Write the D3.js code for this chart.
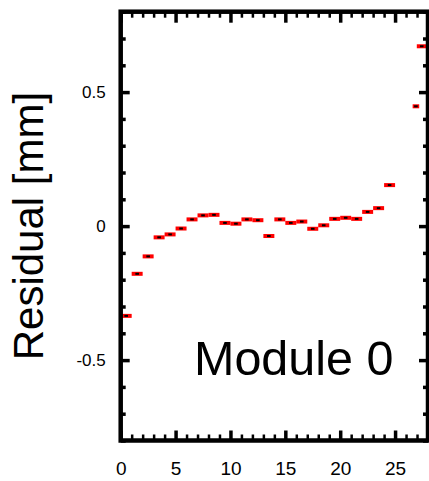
<!DOCTYPE html>
<html>
<head>
<meta charset="utf-8">
<script src="https://cdn.jsdelivr.net/npm/d3@7"></script>
<style>
  body { margin: 0; background: #fff; }
  svg { display: block; font-family: "Liberation Sans", Arial, sans-serif; }
</style>
</head>
<body>
<div id="chart"></div>
<script>
// residual per layer (x centre, half width, residual in mm)
const layerX = [0.5, 1.5, 2.5, 3.5, 4.5, 5.5, 6.5, 7.5, 8.5, 9.5, 10.5, 11.5, 12.5, 13.5,
  14.5, 15.5, 16.5, 17.5, 18.5, 19.5, 20.5, 21.5, 22.5, 23.5, 24.5, 26.9, 27.43]
const halfWidth = [0.5, 0.5, 0.5, 0.5, 0.5, 0.5, 0.5, 0.5, 0.5, 0.5, 0.5, 0.5, 0.5, 0.5,
  0.5, 0.5, 0.5, 0.5, 0.5, 0.5, 0.5, 0.5, 0.5, 0.5, 0.5, 0.3, 0.45]
const residual = [-0.335, -0.178, -0.113, -0.042, -0.031, -0.009, 0.025, 0.040, 0.042,
  0.012, 0.009, 0.025, 0.022, -0.037, 0.025, 0.012, 0.017, -0.010, 0.003, 0.027, 0.031,
  0.027, 0.053, 0.067, 0.153, 0.447, 0.671]
const xTicks = [0, 5, 10, 15, 20, 25]
const yTicks = [-0.5, 0, 0.5]
const label = 'Module 0'

const width = 429
const height = 481
const mLeft = 120.7, mRight = 428, mTop = 11.7, mBottom = 440.5

const svg = d3.select('#chart').append('svg')
  .attr('width', width)
  .attr('height', height)

const x = d3.scaleLinear().domain([0, 28]).range([mLeft, mRight])
const y = d3.scaleLinear().domain([-0.8, 0.8]).range([mBottom, mTop])

const data = residual.map((r, i) => ({x: layerX[i], hw: halfWidth[i], r}))

svg.append('clipPath').attr('id', 'clip')
  .append('rect')
  .attr('x', mLeft).attr('y', mTop)
  .attr('width', mRight - mLeft).attr('height', mBottom - mTop)

// minor ticks, all four sides
const minorX = d3.range(0, 29, 1).filter(v => v % 5 !== 0)
const minorY = d3.range(-8, 9, 1).map(v => v / 10).filter(v => Math.abs(Math.round(v * 10)) % 5 !== 0)

function ticks(axis, tv, len, w) {
  return g => {
    g.call(axis.tickValues(tv).tickSize(-len).tickFormat(''))
    g.select('.domain').remove()
    g.selectAll('.tick line').attr('stroke', '#000').attr('stroke-width', w)
  }
}

svg.append('g').attr('transform', `translate(0,${mBottom})`).call(ticks(d3.axisBottom(x), minorX, 6, 2.5))
svg.append('g').attr('transform', `translate(0,${mTop})`).call(ticks(d3.axisTop(x), minorX, 6, 2.5))
svg.append('g').attr('transform', `translate(${mLeft},0)`).call(ticks(d3.axisLeft(y), minorY, 5, 3.5))
svg.append('g').attr('transform', `translate(${mRight},0)`).call(ticks(d3.axisRight(y), minorY, 5, 3.5))

svg.append('g').attr('transform', `translate(0,${mTop})`).call(ticks(d3.axisTop(x), xTicks, 11, 3.5))
svg.append('g').attr('transform', `translate(${mRight},0)`).call(ticks(d3.axisRight(y), yTicks, 9, 3.5))

// labelled axes
const xAxis = svg.append('g')
  .attr('transform', `translate(0,${mBottom})`)
  .call(d3.axisBottom(x).tickValues(xTicks).tickSize(-10).tickPadding(21).tickFormat(d3.format('d')))
xAxis.select('.domain').remove()
xAxis.selectAll('.tick line').attr('stroke', '#000').attr('stroke-width', 3.5)
xAxis.selectAll('text').attr('fill', '#000').style('font-size', '19px')
  .style('font-family', '"Liberation Sans", Arial, sans-serif')

const yAxis = svg.append('g')
  .attr('transform', `translate(${mLeft},0)`)
  .call(d3.axisLeft(y).tickValues(yTicks).tickSize(-9).tickPadding(15).tickFormat(d => d === 0 ? '0' : d))
yAxis.select('.domain').remove()
yAxis.selectAll('.tick line').attr('stroke', '#000').attr('stroke-width', 3.5)
yAxis.selectAll('text').attr('fill', '#000').style('font-size', '17px')
  .style('font-family', '"Liberation Sans", Arial, sans-serif')

// points
const pts = svg.append('g').attr('clip-path', 'url(#clip)')
pts.selectAll('rect.bar')
  .data(data)
  .enter()
  .append('rect')
  .attr('class', 'bar')
  .attr('x', d => x(d.x - d.hw))
  .attr('width', d => x(d.x + d.hw) - x(d.x - d.hw))
  .attr('y', d => y(d.r) - 2)
  .attr('height', 4)
  .attr('fill', '#ff0000')
pts.selectAll('rect.mark')
  .data(data)
  .enter()
  .append('rect')
  .attr('class', 'mark')
  .attr('x', d => x(d.x) - 1.8)
  .attr('width', 3.6)
  .attr('y', d => y(d.r) - 1)
  .attr('height', 2)
  .attr('fill', '#000')

// frame
svg.append('rect')
  .attr('x', mLeft).attr('y', mTop)
  .attr('width', mRight - mLeft).attr('height', mBottom - mTop)
  .attr('fill', 'none')
  .attr('stroke', '#000')
  .attr('stroke-width', 4.5)

svg.append('text')
  .attr('transform', `translate(43,${(mTop + mBottom) / 2}) rotate(-90)`)
  .attr('text-anchor', 'middle')
  .style('font-size', '42px')
  .text('Residual [mm]')

svg.append('text')
  .attr('x', 194)
  .attr('y', 375)
  .style('font-size', '48.5px')
  .text(label)
</script>
</body>
</html>
